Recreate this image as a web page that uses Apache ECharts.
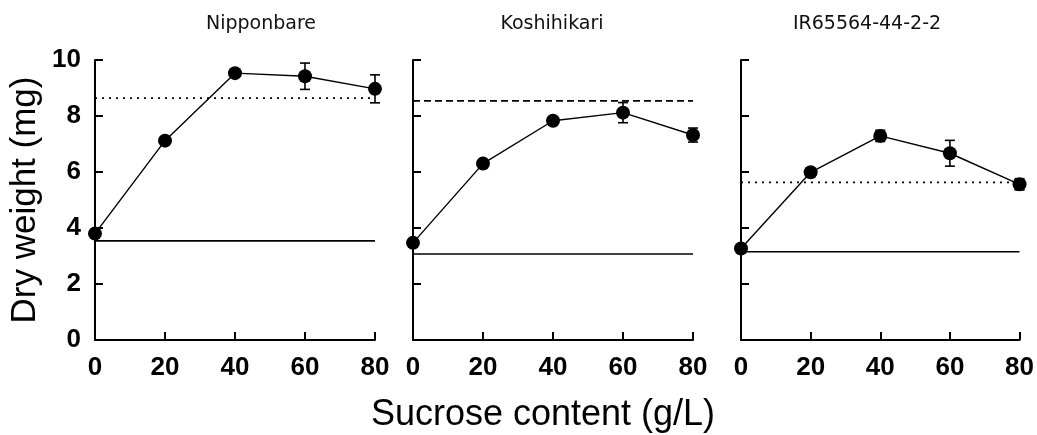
<!DOCTYPE html>
<html>
<head>
<meta charset="utf-8">
<script src="https://cdn.jsdelivr.net/npm/echarts@6/dist/echarts.min.js"></script>
<style>html,body{margin:0;padding:0;background:#fff}#c{width:1037px;height:435px}</style>
</head>
<body>
<div id="c"></div>
<script>
// ---- data ----
const xValues = [0, 20, 40, 60, 80];
const panelTitles = ['Nipponbare', 'Koshihikari', 'IR65564-44-2-2'];
const nippMean = [3.80, 7.12, 9.53, 9.42, 8.97];
const nippErr  = [0.15, 0.10, 0.12, 0.47, 0.50];
const koshMean = [3.47, 6.30, 7.83, 8.12, 7.32];
const koshErr  = [0.15, 0.12, 0.12, 0.36, 0.25];
const irMean   = [3.27, 5.99, 7.29, 6.67, 5.56];
const irErr    = [0.12, 0.10, 0.20, 0.46, 0.20];
const upperRef = [8.64, 8.54, 5.63];
const lowerRef = [3.54, 3.07, 3.15];
const yTickMin = 0, yTickMax = 10, yTickStep = 2;
const xTickMin = 0, xTickMax = 80, xTickStep = 20;
const xAxisName = 'Sucrose content (g/L)';
const yAxisName = 'Dry weight (mg)';

// ---- layout ----
const means = [nippMean, koshMean, irMean];
const errs = [nippErr, koshErr, irErr];
const gridLefts = [95, 413, 741];
const gridW = 280, gridTop = 60, gridH = 280;
const upperDash = [[2, 5], [7, 4], [2, 5]];
const FONT = 'Liberation Sans';

const grids = [], xAxes = [], yAxes = [], series = [];
for (let i = 0; i < 3; i++) {
  grids.push({ left: gridLefts[i], top: gridTop, width: gridW, height: gridH, containLabel: false });
  xAxes.push({
    type: 'value', gridIndex: i, min: xTickMin, max: xTickMax, interval: xTickStep,
    axisLine: { show: true, lineStyle: { color: '#000', width: 2 } },
    axisTick: { show: true, inside: true, length: 8, lineStyle: { color: '#000', width: 2 } },
    axisLabel: { color: '#000', fontFamily: FONT, fontWeight: 'bold', fontSize: 26, margin: 15 },
    splitLine: { show: false }
  });
  yAxes.push({
    type: 'value', gridIndex: i, min: yTickMin, max: yTickMax, interval: yTickStep,
    name: i === 0 ? yAxisName : '',
    nameLocation: 'middle', nameGap: 52,
    nameTextStyle: { color: '#000', fontFamily: FONT, fontSize: 35 },
    axisLine: { show: true, lineStyle: { color: '#000', width: 2 } },
    axisTick: { show: true, inside: true, length: 8, lineStyle: { color: '#000', width: 2 } },
    axisLabel: { show: i === 0, color: '#000', fontFamily: FONT, fontWeight: 'bold', fontSize: 26, margin: 14 },
    splitLine: { show: false }
  });
  // reference lines
  series.push({
    type: 'line', xAxisIndex: i, yAxisIndex: i, symbol: 'none', silent: true,
    data: [[xTickMin, upperRef[i]], [xTickMax, upperRef[i]]],
    lineStyle: { color: '#000', width: 1.6, type: upperDash[i] }, z: 1
  });
  series.push({
    type: 'line', xAxisIndex: i, yAxisIndex: i, symbol: 'none', silent: true,
    data: [[xTickMin, lowerRef[i]], [xTickMax, lowerRef[i]]],
    lineStyle: { color: '#000', width: 1.6, type: 'solid' }, z: 1
  });
  // error bars
  const m = means[i], e = errs[i];
  series.push({
    type: 'custom', xAxisIndex: i, yAxisIndex: i, silent: true, z: 3,
    data: xValues.map((x, k) => [x, m[k] - e[k], m[k] + e[k]]),
    renderItem: function (params, api) {
      const lo = api.coord([api.value(0), api.value(1)]);
      const hi = api.coord([api.value(0), api.value(2)]);
      const cw = 5;
      const st = { stroke: '#000', lineWidth: 1.6 };
      return { type: 'group', children: [
        { type: 'line', shape: { x1: lo[0], y1: lo[1], x2: hi[0], y2: hi[1] }, style: st },
        { type: 'line', shape: { x1: lo[0] - cw, y1: lo[1], x2: lo[0] + cw, y2: lo[1] }, style: st },
        { type: 'line', shape: { x1: hi[0] - cw, y1: hi[1], x2: hi[0] + cw, y2: hi[1] }, style: st }
      ]};
    }
  });
  // means
  series.push({
    type: 'line', xAxisIndex: i, yAxisIndex: i, z: 4,
    data: xValues.map((x, k) => [x, m[k]]),
    symbol: 'circle', symbolSize: 14, showAllSymbol: true,
    itemStyle: { color: '#000', borderWidth: 0 },
    lineStyle: { color: '#000', width: 1.4 }
  });
}

const titleCenters = [261, 552, 867];
const graphic = panelTitles.map((t, i) => ({
  type: 'text', x: titleCenters[i], y: 24,
  style: { text: t, fill: '#111', font: '19px "DejaVu Sans"', textAlign: 'center', textVerticalAlign: 'middle' }
}));
graphic.push({
  type: 'text', x: 543, y: 415,
  style: { text: xAxisName, fill: '#000', font: '36px "Liberation Sans"', textAlign: 'center', textVerticalAlign: 'middle' }
});

const chart = echarts.init(document.getElementById('c'), null, { renderer: 'canvas' });
chart.setOption({
  animation: false,
  backgroundColor: '#fff',
  grid: grids, xAxis: xAxes, yAxis: yAxes, series: series, graphic: graphic
});
</script>
</body>
</html>
